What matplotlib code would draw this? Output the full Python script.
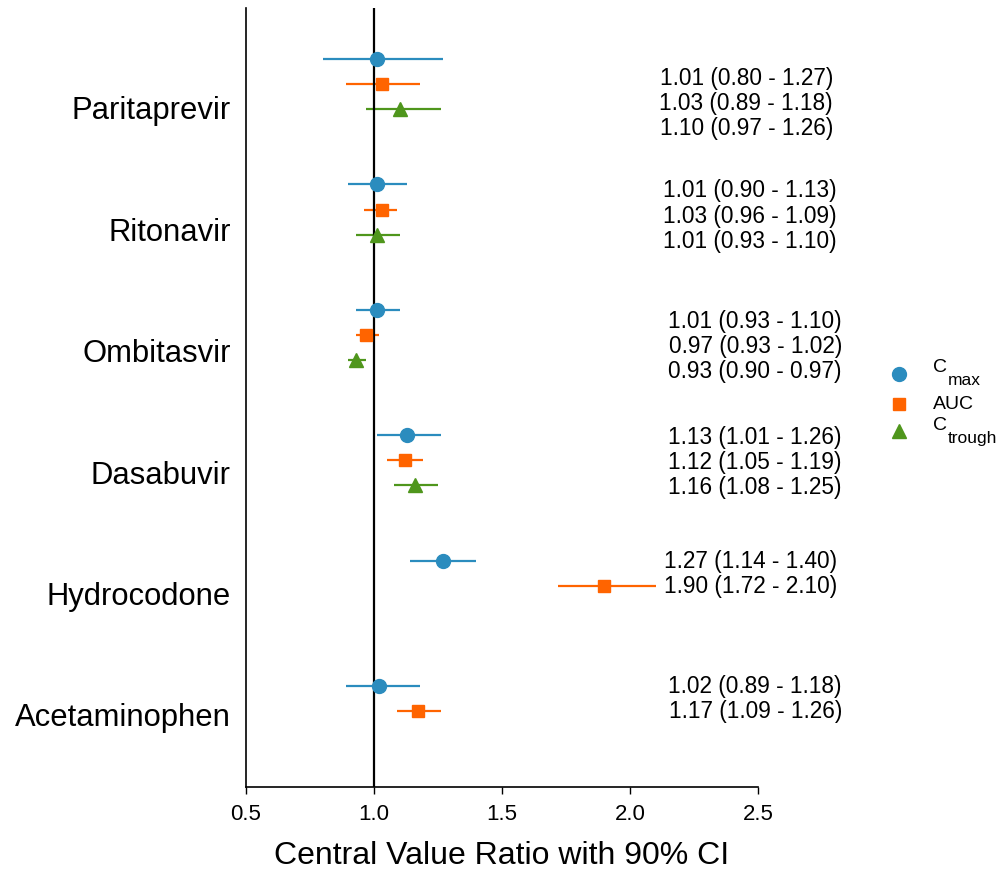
import matplotlib
matplotlib.use("Agg")
import matplotlib.pyplot as plt
from matplotlib.lines import Line2D
import numpy as np

plt.rcParams['font.family'] = ['Liberation Sans', 'DejaVu Sans']

# data
drugs = ["Paritaprevir", "Ritonavir", "Ombitasvir", "Dasabuvir", "Hydrocodone", "Acetaminophen"]

cmax = [1.01, 1.01, 1.01, 1.13, 1.27, 1.02]
cmax_lo = [0.80, 0.90, 0.93, 1.01, 1.14, 0.89]
cmax_hi = [1.27, 1.13, 1.10, 1.26, 1.40, 1.18]

auc = [1.03, 1.03, 0.97, 1.12, 1.90, 1.17]
auc_lo = [0.89, 0.96, 0.93, 1.05, 1.72, 1.09]
auc_hi = [1.18, 1.09, 1.02, 1.19, 2.10, 1.26]

ctrough = [1.10, 1.01, 0.93, 1.16, np.nan, np.nan]
ctrough_lo = [0.97, 0.93, 0.90, 1.08, np.nan, np.nan]
ctrough_hi = [1.26, 1.10, 0.97, 1.25, np.nan, np.nan]

# legend name split in main part + subscript
series = [
    ("C", "max", cmax, cmax_lo, cmax_hi, "#2b8cbe", "o", 10),
    ("AUC", "", auc, auc_lo, auc_hi, "#ff6400", "s", 8.5),
    ("C", "trough", ctrough, ctrough_lo, ctrough_hi, "#4f961c", "^", 10),
]

# layout of the annotation column (per drug)
text_x = [2.793, 2.809, 2.828, 2.828, 2.809, 2.828]
text_dy = [0.156, 0.052, 0.092, 0.02, 0.004, 0.004]
slot = 0.2

W, H = 1005, 872
fig = plt.figure(figsize=(W / 100, H / 100), dpi=100)
ax = fig.add_axes([246 / W, 85 / H, 512 / W, 779 / H])

base = np.arange(len(drugs), dtype=float)

ax.axvline(1.0, color="black", lw=1.6, zorder=2.5)

for k, (name, sub, v, lo, hi, col, mk, ms) in enumerate(series):
    v = np.array(v)
    lo = np.array(lo)
    hi = np.array(hi)
    y = base + k * slot
    ok = ~np.isnan(v)
    ax.hlines(y[ok], lo[ok], hi[ok], color=col, lw=1.6, zorder=2)
    ax.plot(v[ok], y[ok], linestyle="none", marker=mk, ms=ms, color=col, zorder=3)

    for i in np.where(ok)[0]:
        txt = "%.2f (%.2f - %.2f)" % (v[i], lo[i], hi[i])
        ax.text(text_x[i], base[i] + text_dy[i] + k * slot, txt, ha="right", va="center",
                fontsize=16.3, clip_on=False)

ax.set_xlim(0.5, 2.5)
ax.set_xticks([0.5, 1.0, 1.5, 2.0, 2.5])
ax.set_xticklabels(["0.5", "1.0", "1.5", "2.0", "2.5"])
ax.set_ylim(5.805, -0.407)

label_y = 0.39 + 0.968 * np.arange(len(drugs))
ax.set_yticks(label_y)
ax.set_yticklabels(drugs)

ax.tick_params(axis="y", length=0, pad=11, labelsize=22.3)
ax.tick_params(axis="x", length=5, width=1, pad=7, labelsize=16)

for s in ["top", "right"]:
    ax.spines[s].set_visible(False)
ax.spines["left"].set_linewidth(1.2)
ax.spines["bottom"].set_linewidth(1.2)

ax.set_xlabel("Central Value Ratio with 90% CI", fontsize=23, labelpad=12)

# legend, drawn by hand so the subscripts can be big like in the original
leg_y = [374, 404, 431]
fig.canvas.draw()
renderer = fig.canvas.get_renderer()
for k, (name, sub, v, lo, hi, col, mk, ms) in enumerate(series):
    yk = 1 - leg_y[k] / H
    fig.add_artist(Line2D([899 / W], [yk], linestyle="none", marker=mk, ms=ms, color=col,
                          transform=fig.transFigure))
    if sub:
        t = fig.text(933 / W, yk + 6 / H, name, fontsize=14, va="center", ha="left")
        bb = t.get_window_extent(renderer)
        fig.text(bb.x1 / W + 1 / W, yk - 7 / H, sub, fontsize=12.5, va="center", ha="left")
    else:
        fig.text(933 / W, yk, name, fontsize=14, va="center", ha="left")

fig.savefig("out.png", dpi=100)
